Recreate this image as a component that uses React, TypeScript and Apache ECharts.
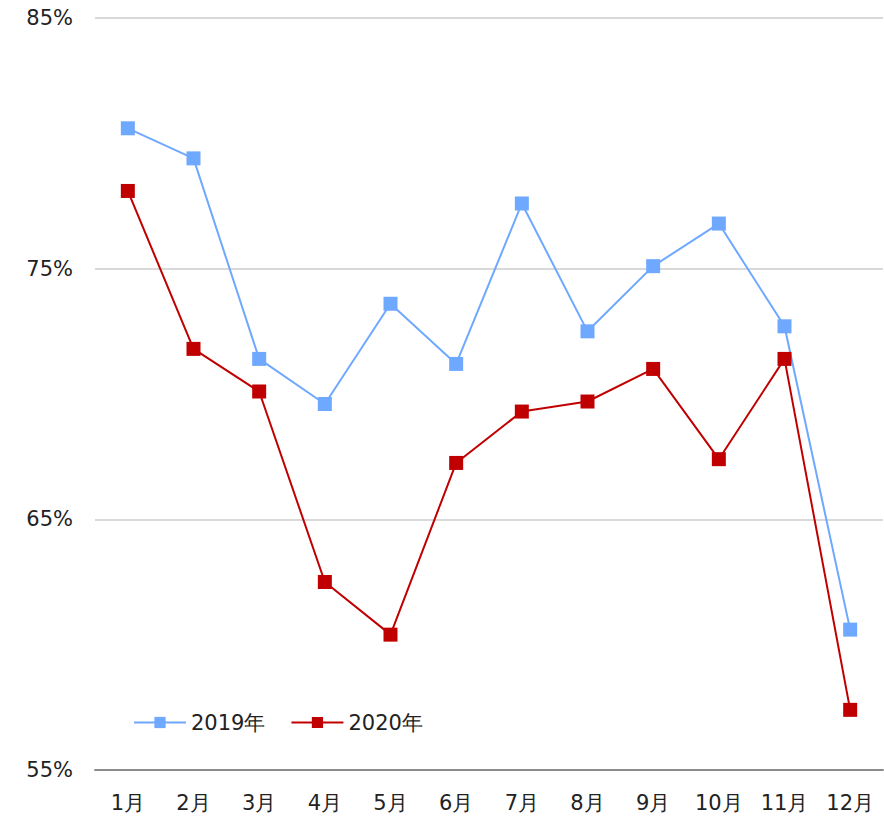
import React, { useEffect, useRef } from "react";
import * as echarts from "echarts";

const categories = ["1月", "2月", "3月", "4月", "5月", "6月", "7月", "8月", "9月", "10月", "11月", "12月"];
const series2019 = [80.6, 79.4, 71.4, 69.6, 73.6, 71.2, 77.6, 72.5, 75.1, 76.8, 72.7, 60.6];
const series2020 = [78.1, 71.8, 70.1, 62.5, 60.4, 67.25, 69.3, 69.7, 71.0, 67.4, 71.4, 57.4];
const seriesNames = ["2019年", "2020年"];
const yMin = 55;
const yMax = 85;
const yInterval = 10;

const FONT = "DejaVu Sans, Verdana, sans-serif";

export default function App() {
  const ref = useRef<HTMLDivElement>(null);
  useEffect(() => {
    if (!ref.current) return;
    const chart = echarts.init(ref.current, undefined, { renderer: "svg" });
    chart.setOption({
      animation: false,
      textStyle: { fontFamily: FONT },
      grid: { left: 95, right: 1, top: 18, bottom: 46, containLabel: false },
      legend: {
        left: 133,
        top: 712,
        padding: 0,
        itemWidth: 52,
        itemHeight: 14,
        itemGap: 25,
        textStyle: { fontSize: 21, color: "#222", fontFamily: FONT },
        data: seriesNames,
      },
      xAxis: {
        type: "category",
        data: categories,
        boundaryGap: true,
        axisLine: { lineStyle: { color: "#8c8c8c", width: 2 } },
        axisTick: { show: false },
        axisLabel: { fontSize: 21, color: "#222", margin: 22, fontFamily: FONT },
      },
      yAxis: {
        type: "value",
        min: yMin,
        max: yMax,
        interval: yInterval,
        axisLine: { show: false },
        axisTick: { show: false },
        axisLabel: { fontSize: 21, color: "#222", margin: 22, formatter: "{value}%", fontFamily: FONT, padding: [3, 0, 0, 0] },
        splitLine: { lineStyle: { color: "#d9d9d9", width: 2 } },
      },
      series: [
        {
          name: seriesNames[0],
          type: "line",
          data: series2019,
          symbol: "rect",
          symbolSize: 14,
          color: "#6fa8ff",
          lineStyle: { width: 2, color: "#6fa8ff" },
          itemStyle: { color: "#6fa8ff" },
        },
        {
          name: seriesNames[1],
          type: "line",
          data: series2020,
          symbol: "rect",
          symbolSize: 14,
          color: "#c00000",
          lineStyle: { width: 2, color: "#c00000" },
          itemStyle: { color: "#c00000" },
        },
      ],
    });
    return () => chart.dispose();
  }, []);
  return <div ref={ref} style={{ width: 884, height: 816, position: "absolute", left: 0, top: 0 }} />;
}
